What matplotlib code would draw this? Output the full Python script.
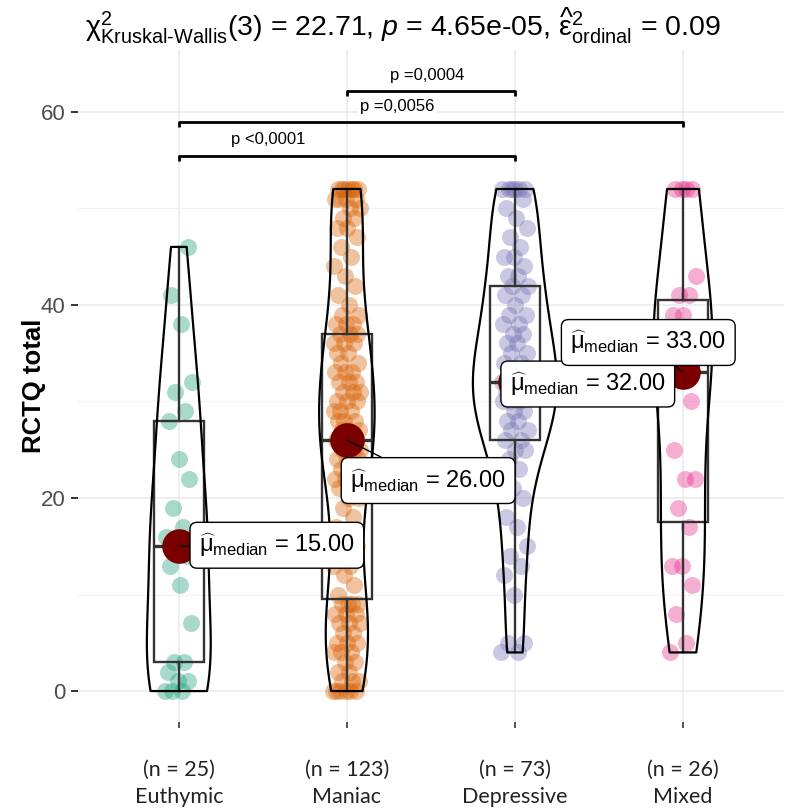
import matplotlib
matplotlib.use("Agg")
import matplotlib.pyplot as plt
import numpy as np

plt.rcParams["font.family"] = ["Liberation Sans", "DejaVu Sans"]
plt.rcParams["mathtext.fontset"] = "custom"
plt.rcParams["mathtext.rm"] = "Liberation Sans"
plt.rcParams["mathtext.it"] = "Liberation Sans:italic"
plt.rcParams["mathtext.bf"] = "Liberation Sans:bold"

# --- data ---
groups = ["Euthymic", "Maniac", "Depressive", "Mixed"]
colors = ["#1B9E77", "#D95F02", "#7570B3", "#E7298A"]

euthymic = [0, 0, 0, 1, 1, 2, 3, 3, 7, 11, 13, 14, 15, 16, 17, 19, 22, 24,
            28, 29, 31, 32, 38, 41, 46]
maniac = ([0] * 6
          + [1, 1, 1, 2, 2, 3, 3, 4, 4, 4, 5, 5, 5, 6, 6, 7, 7, 7, 8, 8, 8, 9, 9, 9]
          + [9, 10]
          + [11, 12, 13, 13, 14, 15, 16, 17, 18, 19, 20, 20, 21, 21, 22, 22,
             23, 23, 24, 24, 24, 25, 25, 25, 25, 26, 26, 26, 26]
          + [26]
          + [27, 27, 27, 28, 28, 28, 29, 29, 29, 30, 30, 30, 31, 31, 31, 32,
             32, 32, 33, 33, 33, 34, 34, 35, 35, 36, 36, 36, 37]
          + [37, 37]
          + [38, 38, 38, 39, 39, 40, 41, 42, 43, 44, 45, 46, 47, 48, 48, 49,
             49, 50, 50, 51, 51, 51, 51] + [52] * 7)
depressive = ([4, 4, 5, 5, 10, 12, 13, 14, 15, 17, 18, 20, 21, 22, 23, 24, 25, 25]
              + [26]
              + [26, 27, 27, 28, 28, 29, 29, 30, 30, 30, 31, 31, 31, 31, 32, 32, 32]
              + [32]
              + [33, 33, 34, 34, 35, 35, 36, 36, 37, 37, 38, 38, 39, 39, 40, 41, 41]
              + [42]
              + [42, 43, 43, 44, 45, 45, 46, 47, 48, 49, 50, 51] + [52] * 6)
mixed = [4, 5, 8, 11, 13, 13, 17, 19, 22, 22, 25, 30, 33, 33, 34, 35, 36, 39,
         39, 41, 41, 43, 52, 52, 52, 52]
data = [euthymic, maniac, depressive, mixed]

medians = [15.00, 26.00, 32.00, 33.00]
# label anchor (x, y) in data units for the median labels
label_x = [1.12, 2.02, 2.97, 3.33]
label_y = [15.1, 21.8, 31.8, 36.1]

# pairwise comparisons: (group i, group j, bracket height, label, label x)
brackets = [
    (1, 3, 55.4, "p <0,0001", 1.53),
    (1, 4, 58.9, "p =0,0056", 2.30),
    (2, 3, 62.1, "p =0,0004", 2.48),
]

title = (r"$\mathrm{\chi}^2_{\mathrm{Kruskal\text{-}Wallis}}(3)$ = 22.71, $p$ = 4.65e-05, "
         r"$\widehat{\mathrm{\epsilon}}^2_{\mathrm{ordinal}}$ = 0.09")


def nrd0(kde):
    d = np.asarray(kde.dataset).ravel()
    sd = d.std(ddof=1)
    q75, q25 = np.percentile(d, [75, 25])
    h = 0.9 * min(sd, (q75 - q25) / 1.34) * len(d) ** -0.2
    return h / sd


fig = plt.figure(figsize=(7.86, 8.11), dpi=100)
ax = fig.add_axes([0.0992, 0.1098, 0.898, 0.8286])

pos = np.arange(1, len(groups) + 1)

# jittered points
for i, (vals, c) in enumerate(zip(data, colors)):
    n = len(vals)
    off = ((np.arange(n) * 0.618034) % 1.0 - 0.5) * 0.16
    ax.scatter(pos[i] + off, vals, s=150, color=c, alpha=0.38, lw=0, zorder=2)

# boxplots
ax.boxplot(data, positions=pos, widths=0.3, whis=1.5, showfliers=False,
           showcaps=False, patch_artist=True,
           boxprops=dict(facecolor="none", edgecolor="#333333", lw=1.7),
           whiskerprops=dict(color="#333333", lw=1.7),
           medianprops=dict(color="#333333", lw=2.4),
           zorder=3)

# violins
widths = [0.38, 0.33, 0.5, 0.35]
for i, vals in enumerate(data):
    vp = ax.violinplot([vals], positions=[pos[i]], widths=widths[i],
                       showextrema=False, bw_method=nrd0, points=200)
    for b in vp["bodies"]:
        b.set_facecolor("none")
        b.set_edgecolor("black")
        b.set_linewidth(1.6)
        b.set_alpha(1)
        b.set_zorder(3)

# median points + labels
ax.scatter(pos, medians, s=620, color="#7A0000", zorder=4, lw=0)
for i, m in enumerate(medians):
    ax.annotate(r"$\widehat{\mathrm{\mu}}_{\mathrm{median}}$ = " + f"{m:.2f}",
                xy=(pos[i], m), xytext=(label_x[i], label_y[i]),
                ha="left", va="center", fontsize=17, zorder=5,
                bbox=dict(boxstyle="round,pad=0.38,rounding_size=0.3",
                          fc="white", ec="black", lw=1),
                arrowprops=dict(arrowstyle="-", color="black", lw=1,
                                shrinkA=0, shrinkB=0))

# significance brackets
for a, b, h, lab, lx in brackets:
    ax.plot([a, a, b, b], [h - 0.5, h, h, h - 0.5], color="black", lw=2,
            zorder=5, solid_capstyle="butt")
    ax.text(lx, h + 0.9, lab, ha="center", va="bottom", fontsize=12,
            zorder=6, bbox=dict(fc="white", ec="none", pad=1.5))

# axes styling
ax.set_xlim(0.4, 4.6)
ax.set_ylim(-3.2, 66.4)
ax.set_yticks([0, 20, 40, 60])
ax.set_yticks([10, 30, 50], minor=True)
ax.set_xticks(pos)
ax.set_xticklabels([f"(n = {len(d)})\n{g}" for d, g in zip(data, groups)],
                   family=["Lato", "DejaVu Sans"], fontsize=15.5,
                   color="#222222", linespacing=1.45)
ax.tick_params(axis="x", length=4, width=1.2, color="#333333", pad=23)
ax.tick_params(axis="y", which="major", length=5, width=1.4, color="#333333",
               labelsize=16, labelcolor="#4D4D4D", pad=4)
ax.tick_params(axis="y", which="minor", length=0)
for s in ax.spines.values():
    s.set_visible(False)
ax.grid(True, which="major", color="#EBEBEB", lw=1.2)
ax.grid(True, which="minor", axis="y", color="#F3F3F3", lw=0.8)
ax.set_axisbelow(True)

ax.set_ylabel("RCTQ total", fontsize=18.5, fontweight="bold")
ax.yaxis.set_label_coords(-0.045, 0.5)

fig.text(85 / 786, 1 - 26 / 811, title, ha="left", va="center", fontsize=20.5)

fig.savefig("out.png", dpi=100)
